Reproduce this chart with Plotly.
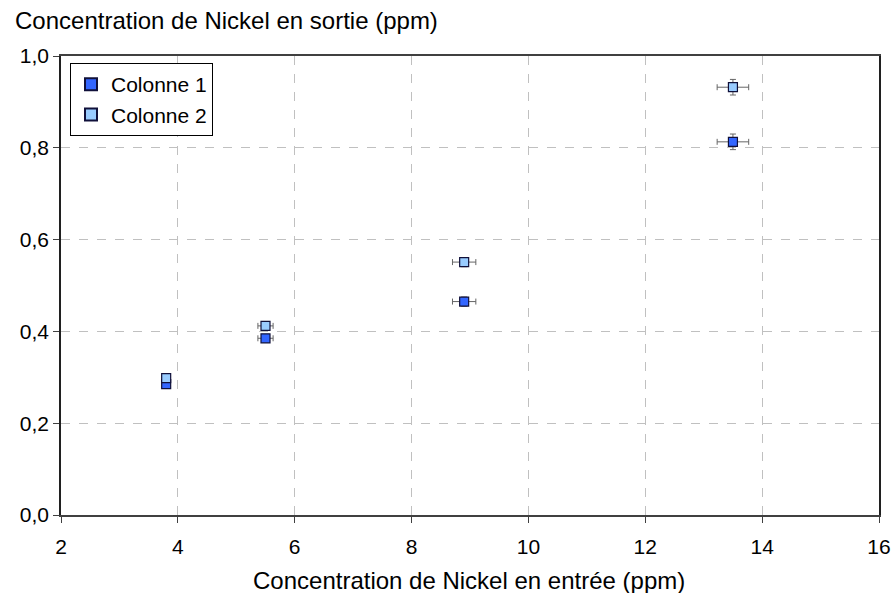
import plotly.graph_objects as go

x_in = [3.8, 5.5, 8.9, 13.5]
col1 = [0.285, 0.385, 0.465, 0.813]
col2 = [0.298, 0.412, 0.551, 0.932]
x_err = [0.05, 0.13, 0.2, 0.27]
y_err1 = [0.005, 0.008, 0.01, 0.017]
y_err2 = [0.005, 0.008, 0.01, 0.017]

xticks = [2, 4, 6, 8, 10, 12, 14, 16]
yticks = [0.0, 0.2, 0.4, 0.6, 0.8, 1.0]
ytick_text = ["0,0", "0,2", "0,4", "0,6", "0,8", "1,0"]

font = "Liberation Sans, Arial, sans-serif"

W, H = 894, 593
L, R, T, B = 61, 15, 56, 78
pw, ph = W - L - R, H - T - B

fig = go.Figure()
for name, ys, ye, color in [("Colonne 1", col1, y_err1, "#3366FF"),
                            ("Colonne 2", col2, y_err2, "#99CCFF")]:
    fig.add_trace(go.Scatter(
        x=x_in, y=ys, mode="markers", name=name,
        marker=dict(symbol="square", size=9, color=color,
                    line=dict(color="#10103a", width=1.2)),
        error_x=dict(type="data", array=x_err, visible=True, color="#666666",
                     thickness=1, width=3),
        error_y=dict(type="data", array=ye, visible=True, color="#666666",
                     thickness=1, width=3),
    ))

fig.update_layout(
    width=W, height=H,
    margin=dict(l=L, r=R, t=T, b=B, autoexpand=False),
    paper_bgcolor="white", plot_bgcolor="white",
    font=dict(family=font, size=22, color="black"),
    showlegend=True,
    legend=dict(x=(70 - L) / pw, y=1 - (63 - T) / ph, xanchor="left", yanchor="top",
                bordercolor="black", borderwidth=1, bgcolor="white",
                font=dict(size=21), itemsizing="constant", itemwidth=30,
                tracegroupgap=0),
    annotations=[
        dict(text="Concentration de Nickel en sortie (ppm)",
             xref="paper", yref="paper", x=(13 - L) / pw, y=1 + (T - 21) / ph,
             xanchor="left", yanchor="middle", showarrow=False,
             font=dict(size=24)),
        dict(text="Concentration de Nickel en entrée (ppm)",
             xref="paper", yref="paper", x=(469 - L) / pw, y=-(580 - (T + ph)) / ph,
             xanchor="center", yanchor="middle", showarrow=False,
             font=dict(size=24)),
    ],
)
fig.update_xaxes(
    range=[2, 16], tickvals=xticks, ticktext=[str(t) for t in xticks],
    showgrid=True, gridcolor="#C0C0C0", griddash="dash", gridwidth=1,
    showline=True, linecolor="#404040", linewidth=1.5, mirror=True,
    ticks="outside", ticklen=6, tickcolor="#404040", automargin=False,
    ticklabeloverflow="allow", ticklabelstandoff=6,
    zeroline=False, tickfont=dict(size=21),
)
fig.update_yaxes(
    range=[0, 1.0], tickvals=yticks, ticktext=ytick_text,
    showgrid=True, gridcolor="#C0C0C0", griddash="dash", gridwidth=1,
    showline=True, linecolor="#202020", linewidth=1.5, mirror=True,
    ticks="outside", ticklen=6, tickcolor="#404040", automargin=False,
    zeroline=False, tickfont=dict(size=21),
)
fig.write_html("out.html", config={"displayModeBar": False},
               post_script="document.body.style.margin='0';document.body.style.overflow='hidden';")
